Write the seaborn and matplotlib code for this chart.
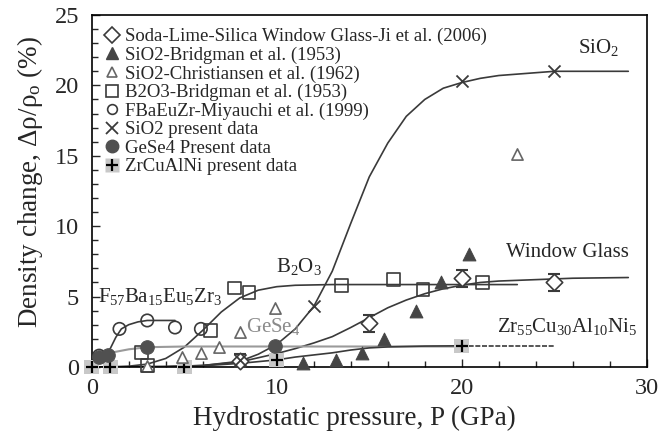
import matplotlib
matplotlib.use('Agg')
import matplotlib.pyplot as plt
from matplotlib.lines import Line2D
from matplotlib.ticker import MultipleLocator
import seaborn as sns

# measured points
wg_p = [8.0, 15.0, 20.0, 25.0]
wg_d = [0.4, 3.1, 6.3, 6.0]
wg_err = [0.5, 0.6, 0.6, 0.6]
brid_p = [11.4, 13.2, 14.6, 15.8, 17.5, 18.9, 20.4]
brid_d = [0.3, 0.5, 1.0, 2.0, 4.0, 6.0, 8.0]
chris_p = [3.0, 4.9, 5.9, 6.9, 8.0, 9.9, 23.0]
chris_d = [0.05, 0.7, 1.0, 1.4, 2.5, 4.2, 15.1]
b2o3_p = [2.7, 3.0, 6.4, 7.7, 8.5, 13.5, 16.3, 17.9, 21.1]
b2o3_d = [1.0, 0.1, 2.6, 5.6, 5.3, 5.8, 6.2, 5.5, 6.0]
fba_p = [0.4, 1.5, 3.0, 4.5, 5.9]
fba_d = [0.8, 2.7, 3.3, 2.8, 2.7]
sio2_p = [8.0, 12.0, 20.0, 25.0]
sio2_d = [0.5, 4.3, 20.3, 21.0]
gese_p = [0.4, 0.9, 3.0, 9.9]
gese_d = [0.7, 0.85, 1.45, 1.5]
zr_p = [0.0, 1.0, 5.0, 10.0, 20.0]
zr_d = [0.0, 0.0, 0.0, 0.5, 1.5]

# fitted curves
sio2_cp = [0, 4, 6, 8, 9, 10, 11, 12, 13, 14, 15, 16, 17, 18, 19, 20, 21, 22, 23, 25, 29]
sio2_cd = [0, 0.02, 0.1, 0.4, 0.9, 1.6, 2.7, 4.3, 6.8, 10.2, 13.5, 15.9, 17.8, 19.0, 19.8, 20.2, 20.5, 20.7, 20.8, 21.0, 21.0]
wg_cp = [0, 4, 6, 8, 9, 10, 11, 12, 13, 14, 15, 16, 17, 18, 19, 20, 21, 22, 24, 26, 29]
wg_cd = [0, 0.02, 0.1, 0.35, 0.65, 0.95, 1.3, 1.7, 2.15, 2.8, 3.5, 4.2, 4.75, 5.2, 5.55, 5.8, 6.0, 6.1, 6.2, 6.3, 6.35]
b2o3_cp = [1, 2, 3, 4, 5, 6, 7, 8, 9, 10, 11, 13, 17, 23]
b2o3_cd = [0, 0.05, 0.2, 0.6, 1.4, 2.6, 3.9, 4.9, 5.45, 5.7, 5.8, 5.85, 5.85, 5.85]
fba_cp = [0.3, 0.7, 1.0, 1.3, 1.6, 2.0, 2.5, 3.0, 4.0, 4.5]
fba_cd = [0.6, 0.9, 1.3, 2.1, 2.7, 3.0, 3.2, 3.3, 3.3, 3.3]
gese_cp = [0.3, 0.6, 1.0, 2.0, 3.0, 5.0, 10.0, 20.0]
gese_cd = [0.5, 0.8, 1.0, 1.25, 1.4, 1.45, 1.45, 1.45]
zr_cp = [0, 2, 4, 6, 8, 10, 11, 12, 13, 14, 15, 16, 18, 20]
zr_cd = [0, 0, 0.02, 0.08, 0.25, 0.5, 0.7, 0.85, 1.0, 1.2, 1.35, 1.42, 1.48, 1.5]
zr_dash_p = [20, 25]
zr_dash_d = [1.5, 1.5]

sns.set_style('ticks')
plt.rcParams['font.family'] = ['Liberation Serif', 'DejaVu Serif']
plt.rcParams['mathtext.fontset'] = 'custom'
plt.rcParams['mathtext.rm'] = 'Liberation Serif'
plt.rcParams['mathtext.it'] = 'Liberation Serif:italic'

dark = '#3a3a3a'
fig = plt.figure(figsize=(6.6, 4.41), dpi=100)
ax = fig.add_axes([0.139, 0.168, 0.841, 0.798])

lw = 1.2
sns.lineplot(x=sio2_cp, y=sio2_cd, ax=ax, color=dark, lw=lw, sort=False, estimator=None)
sns.lineplot(x=wg_cp, y=wg_cd, ax=ax, color=dark, lw=lw, sort=False, estimator=None)
sns.lineplot(x=b2o3_cp, y=b2o3_cd, ax=ax, color=dark, lw=lw, sort=False, estimator=None)
sns.lineplot(x=fba_cp, y=fba_cd, ax=ax, color=dark, lw=lw, sort=False, estimator=None)
sns.lineplot(x=gese_cp, y=gese_cd, ax=ax, color='#9a9a9a', lw=1.5, sort=False, estimator=None)
sns.lineplot(x=zr_cp, y=zr_cd, ax=ax, color=dark, lw=lw, sort=False, estimator=None)
ax.plot(zr_dash_p, zr_dash_d, color=dark, lw=lw, ls=(0, (3, 1)))

kw = dict(ax=ax, legend=False, clip_on=False, zorder=4)
sns.scatterplot(x=zr_p, y=zr_d, marker='s', s=110, color='#c8c8c8', edgecolor='none', **kw)
sns.scatterplot(x=zr_p, y=zr_d, marker='+', s=80, color='black', linewidth=1.6, **kw)
ax.errorbar(wg_p, wg_d, yerr=wg_err, fmt='none', ecolor=dark, elinewidth=1.2, capsize=4, capthick=1.5, zorder=3)
sns.scatterplot(x=wg_p, y=wg_d, marker='D', s=70, facecolor='white', edgecolor=dark, linewidth=1.2, **kw)
sns.scatterplot(x=brid_p, y=brid_d, marker='^', s=85, color='#454545', edgecolor='#454545', **kw)
sns.scatterplot(x=chris_p, y=chris_d, marker='^', s=65, facecolor='white', edgecolor='#666666', linewidth=1.2, **kw)
sns.scatterplot(x=b2o3_p, y=b2o3_d, marker='s', s=85, facecolor='none', edgecolor=dark, linewidth=1.2, **kw)
sns.scatterplot(x=fba_p, y=fba_d, marker='o', s=80, facecolor='none', edgecolor=dark, linewidth=1.2, **kw)
sns.scatterplot(x=sio2_p, y=sio2_d, marker='x', s=75, color=dark, linewidth=1.3, **kw)
sns.scatterplot(x=gese_p, y=gese_d, marker='o', s=95, color='#505050', edgecolor='#505050', **kw)

ax.set_xlim(0, 30)
ax.set_ylim(0, 25)
ax.xaxis.set_major_locator(MultipleLocator(10))
ax.xaxis.set_minor_locator(MultipleLocator(2))
ax.yaxis.set_major_locator(MultipleLocator(5))
ax.yaxis.set_minor_locator(MultipleLocator(1))
ax.tick_params(which='both', direction='in', top=False, right=False, labelsize=17.5)
ax.tick_params(axis='y', pad=9)
ax.tick_params(axis='x', pad=8)
ax.tick_params(which='major', length=6, width=1)
ax.tick_params(which='minor', length=4, width=1)
for s in ax.spines.values():
    s.set_linewidth(1.2)
    s.set_color('black')
ax.set_xlabel('Hydrostatic pressure, P (GPa)', fontsize=19.5)
ax.set_ylabel('Density change, Δρ/ρ$_\\mathrm{o}$ (%)', fontsize=19.5)
ax.xaxis.set_label_coords(0.474, -0.11)
ax.yaxis.set_label_coords(-0.085, 0.525)

ax.text(27.4, 22.7, r'SiO$_2$', fontsize=15, ha='center', va='center')
ax.text(11.2, 7.1, r'B$_2$O$_3$', fontsize=15, ha='center', va='center')
ax.text(3.7, 5.0, r'F$_{57}$Ba$_{15}$Eu$_5$Zr$_3$', fontsize=15, ha='center', va='center')
ax.text(9.8, 2.9, r'GeSe$_4$', fontsize=15, ha='center', va='center', color='#8a8a8a')
ax.text(25.7, 8.1, 'Window Glass', fontsize=15, ha='center', va='center')
ax.text(25.7, 2.9, r'Zr$_{55}$Cu$_{30}$Al$_{10}$Ni$_5$', fontsize=15, ha='center', va='center')

handles = [
    Line2D([], [], ls='none', marker='D', ms=8, mfc='white', mec=dark, mew=1.2),
    Line2D([], [], ls='none', marker='^', ms=8, mfc='#454545', mec='#454545'),
    Line2D([], [], ls='none', marker='^', ms=7, mfc='white', mec='#666666', mew=1.2),
    Line2D([], [], ls='none', marker='s', ms=8, mfc='none', mec=dark, mew=1.2),
    Line2D([], [], ls='none', marker='o', ms=7, mfc='none', mec=dark, mew=1.2),
    Line2D([], [], ls='none', marker='x', ms=8, color=dark, mew=1.3),
    Line2D([], [], ls='none', marker='o', ms=9, mfc='#505050', mec='#505050'),
    (Line2D([], [], ls='none', marker='s', ms=10, mfc='#c8c8c8', mec='none'),
     Line2D([], [], ls='none', marker='+', ms=9, color='black', mew=1.6)),
]
labels = [
    'Soda-Lime-Silica Window Glass-Ji et al. (2006)',
    'SiO2-Bridgman et al. (1953)',
    'SiO2-Christiansen et al. (1962)',
    'B2O3-Bridgman et al. (1953)',
    'FBaEuZr-Miyauchi et al. (1999)',
    'SiO2 present data',
    'GeSe4 Present data',
    'ZrCuAlNi present data',
]
ax.legend(handles, labels, loc='upper left', frameon=False, fontsize=13.5,
          handlelength=0.8, handletextpad=0.3, labelspacing=0.07,
          borderaxespad=0.3, borderpad=0.4)

fig.savefig('out.png', dpi=100)
